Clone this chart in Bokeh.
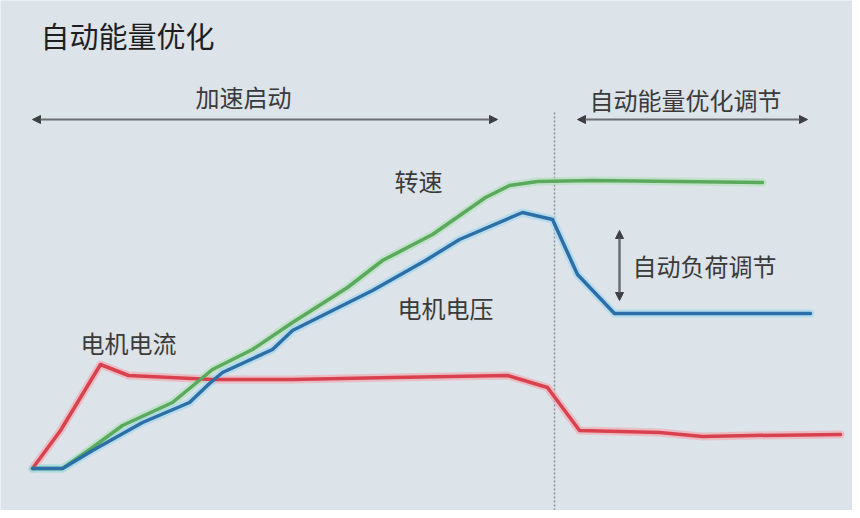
from bokeh.plotting import figure
from bokeh.models import Range1d, Arrow, NormalHead, ColumnDataSource
from bokeh.core.properties import value
from bokeh.embed import file_html
from bokeh.resources import INLINE

# ---- data (time units / level units) ----
current_t = [32, 60, 100, 128, 212, 292, 392, 507, 547, 579, 659, 702, 752, 840]
current_v = [42, 80, 146, 135, 131, 131, 133, 135, 123, 80, 78, 74, 75, 76]

speed_t = [32, 62, 92, 122, 172, 212, 252, 292, 347, 382, 432, 485, 509, 537, 592, 762]
speed_v = [42, 42, 63, 85, 108, 141, 161, 188, 223, 250, 276, 313, 325, 329, 330, 328]

voltage_t = [32, 62, 92, 142, 189, 209, 222, 272, 292, 342, 372, 425, 459, 522, 552, 577, 614, 692, 810]
voltage_v = [42, 42, 60, 88, 108, 127, 138, 161, 180, 205, 220, 250, 271, 298, 291, 236, 197, 197, 197]

switch_t = 554          # moment the optimisation takes over
phase_y = 391           # level of the phase arrows
accel_span = [32, 497]
optim_span = [577, 807]
load_t = 619
load_span = [210, 280]

labels = ["加速启动", "自动能量优化调节", "转速", "电机电压", "电机电流", "自动负荷调节"]
label_x = [195, 589, 394, 397, 80, 632]
label_y = [414, 411, 330, 203, 168, 245]
title_text = "自动能量优化"

BG = "#dce3e9"
FONT = "Noto Sans CJK SC"

p = figure(width=852, height=510, output_backend="svg", toolbar_location=None,
           x_range=Range1d(0, 852), y_range=Range1d(0, 510), min_border=0)
p.axis.visible = False
p.grid.visible = False
p.outline_line_color = None
p.background_fill_color = BG
p.border_fill_color = BG

# divider
p.line([switch_t, switch_t], [0, 398], line_color="#8a9096", line_width=1.5, line_dash="2 2")

# lines with soft halo
series = [
    (current_t, current_v, "#d9414e", "#f3a3ab"),
    (speed_t, speed_v, "#5aa95c", "#b0dfb5"),
    (voltage_t, voltage_v, "#2c6fa7", "#9fd6ee"),
]
for t, v, col, halo in series:
    p.line(t, v, line_color=halo, line_width=8, line_alpha=0.6, line_join="round", line_cap="round")
for t, v, col, halo in series:
    p.line(t, v, line_color=col, line_width=3.5, line_join="round", line_cap="round")

# arrows
def head():
    return NormalHead(size=8, fill_color="#3d3f42", line_color="#3d3f42")

for x0, x1 in (accel_span, optim_span):
    p.add_layout(Arrow(start=head(), end=head(), x_start=x0, y_start=phase_y, x_end=x1, y_end=phase_y,
                       line_color="#6b6f73", line_width=2))
p.add_layout(Arrow(start=head(), end=head(), x_start=load_t, y_start=load_span[0], x_end=load_t,
                   y_end=load_span[1], line_color="#6b6f73", line_width=2.5))

# labels
src = ColumnDataSource(dict(x=label_x, y=label_y, text=labels))
p.text("x", "y", text="text", source=src, text_font=value(FONT), text_font_size="24px",
       text_color="#3a3a3a", text_baseline="middle", text_align="left")
p.text([40], [476], text=[title_text], text_font=value(FONT), text_font_size="29px",
       text_color="#1e1e1e", text_baseline="middle", text_align="left")

open("out.html", "w").write(file_html(p, INLINE))
